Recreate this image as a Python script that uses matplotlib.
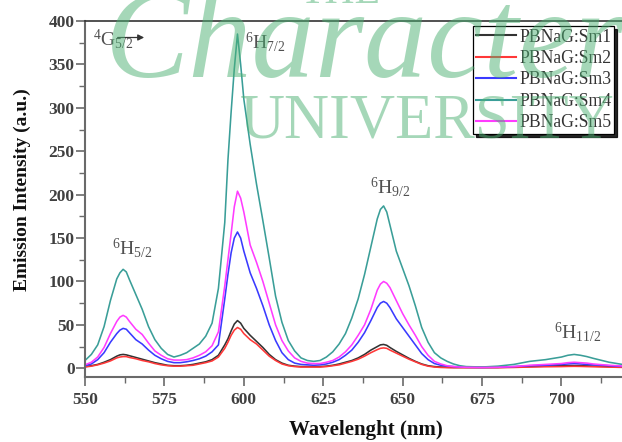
import matplotlib
matplotlib.use('Agg')
import matplotlib.pyplot as plt
from matplotlib.ticker import MultipleLocator

plt.rcParams['font.family'] = ['Liberation Serif', 'DejaVu Serif']
plt.rcParams['mathtext.fontset'] = 'custom'
plt.rcParams['mathtext.rm'] = 'Liberation Serif'
plt.rcParams['mathtext.it'] = 'Liberation Serif:italic'

# ---------------- data ----------------
wavelength = [550, 552, 554, 556, 558, 560, 561, 562, 563, 564, 566, 568, 570, 572, 574, 576,
              578, 580, 582, 584, 586, 588, 590, 592, 594, 595, 596, 597, 598, 599, 600,
              602, 604, 606, 608, 610, 612, 614, 616, 618, 620, 622, 624, 626, 628, 630,
              632, 634, 636, 638, 640, 642, 643, 644, 645, 646, 648, 650, 652, 654, 656,
              658, 660, 662, 664, 666, 668, 670, 675, 680, 685, 690, 695, 700, 702, 704,
              706, 708, 710, 715, 720]

sm1 = [2, 3, 4.5, 7, 10, 14, 15.5, 16, 15.5, 14.5, 12.5, 10.5, 8.5, 6.5, 5, 3.5,
       3, 3, 3.5, 4.5, 6, 7.5, 10, 15, 27, 34, 43, 51, 55, 52, 46,
       38, 31, 24, 16, 10, 6, 3.5, 2.5, 2, 2, 2, 2, 2.5, 3.5, 5,
       7, 9, 12, 16, 21, 25, 27, 27.5, 26.5, 24, 19.5, 15.5, 11.5, 8, 5,
       3, 2, 1.5, 1.2, 1, 1, 1, 1, 1, 1.5, 2, 2.5, 3, 3, 3.2,
       3, 2.8, 2.5, 2, 1.5]

sm2 = [1.5, 2.5, 4, 6, 8.5, 12, 13, 13.5, 13.5, 12.5, 11, 9, 7.5, 5.5, 4, 3,
       2.5, 2.5, 3, 3.5, 5, 6.5, 8.5, 13, 23, 30, 38, 44, 47, 45, 40,
       33, 28, 21, 14, 9, 5, 3, 2, 1.5, 1.5, 1.5, 1.5, 2, 3, 4,
       6, 8, 10.5, 14, 18, 21.5, 23, 23.5, 23, 21, 17.5, 14, 10.5, 7.5, 4.5,
       2.5, 1.5, 1, 0.8, 0.7, 0.7, 0.7, 0.7, 0.7, 1, 1.5, 1.8, 2, 2.2, 2.3,
       2.2, 2, 1.8, 1.4, 1]

sm3 = [3, 5, 10, 18, 30, 40, 44, 46, 45, 41, 33, 28, 21, 15, 11, 8,
       6.5, 6.5, 7.5, 9, 11, 14, 19, 27, 80, 108, 133, 150, 157, 150, 135,
       110, 92, 72, 50, 32, 18, 10, 6, 4.5, 4, 3.5, 4, 5, 7, 10,
       15, 21, 30, 41, 55, 70, 75, 77, 75, 70, 57, 47, 37, 27, 17,
       10, 5.5, 3.5, 2.5, 2, 1.5, 1.2, 1, 1.2, 2, 3, 3.5, 4.5, 5, 5.5,
       5, 4.5, 4, 3, 2]

sm4 = [9, 16, 27, 48, 78, 103, 110, 114, 111, 102, 85, 68, 48, 33, 23, 16,
       13, 15, 18, 23, 28, 37, 52, 92, 168, 240, 295, 345, 385, 350, 310,
       258, 212, 170, 127, 83, 53, 32, 20, 12, 9, 8, 9, 13, 19, 28,
       40, 58, 80, 108, 140, 172, 183, 187, 180, 165, 135, 115, 95, 72, 47,
       30, 18, 12, 8, 5, 3, 2, 1.5, 2.5, 4.5, 8, 10, 13, 15, 16,
       15, 13.5, 11.5, 7, 4]

sm5 = [4, 7, 13, 24, 40, 54, 59, 61, 59, 54, 45, 39, 29, 20, 15, 11,
       9.5, 9.5, 10, 12, 15, 19, 26, 42, 95, 125, 155, 186, 204, 196, 180,
       142, 122, 100, 75, 50, 32, 20, 12, 8, 6, 5.5, 5.5, 7, 9, 13,
       19, 27, 38, 50, 68, 90, 97, 100, 98, 93, 78, 63, 50, 38, 25,
       15, 8, 5, 3, 2, 1.5, 1.2, 1, 1.2, 2, 3.5, 4.5, 5.5, 6.5, 7,
       6.5, 6, 5, 3.5, 2.5]

labels = ['PBNaG:Sm1', 'PBNaG:Sm2', 'PBNaG:Sm3', 'PBNaG:Sm4', 'PBNaG:Sm5']
colors = ['#333333', '#ff3838', '#3a3aff', '#3a9e98', '#ff3cff']

x_ticks = [550, 575, 600, 625, 650, 675, 700]
y_ticks = [0, 50, 100, 150, 200, 250, 300, 350, 400]

# ---------------- figure ----------------
fig = plt.figure(figsize=(6.22, 4.42), dpi=100)
ax = fig.add_axes([85 / 622, 65 / 442, 540 / 622, 356 / 442])

for series, lab, col in zip([sm1, sm2, sm3, sm4, sm5], labels, colors):
    ax.plot(wavelength, series, color=col, lw=1.15, label=lab)

ax.set_xlim(550, 720)
ax.set_ylim(-10, 400)
ax.set_xticks(x_ticks)
ax.set_yticks(y_ticks)
ax.xaxis.set_minor_locator(MultipleLocator(12.5))
ax.yaxis.set_minor_locator(MultipleLocator(25))

spine_col = '#6a6a6a'
for s in ['left', 'bottom']:
    ax.spines[s].set_color(spine_col)
    ax.spines[s].set_linewidth(1.5)
ax.spines['top'].set_color('#333333')
ax.spines['top'].set_linewidth(1.2)
ax.spines['right'].set_visible(False)

ax.tick_params(which='major', direction='out', length=6.5, width=1.2, color=spine_col,
               labelsize=12.5, labelcolor='#404040', top=False, right=False)
ax.tick_params(which='minor', direction='out', length=4, width=1.0, color=spine_col,
               top=False, right=False)
ax.tick_params(axis='y', which='major', pad=1)
ax.tick_params(axis='x', which='major', pad=4.5)
for t in ax.get_xticklabels() + ax.get_yticklabels():
    t.set_fontweight('bold')

fig.text(366 / 622, 1 - 430 / 442, 'Wavelenght (nm)', ha='center', va='center',
         fontsize=15, fontweight='bold', color='#111111')
fig.text(22 / 622, 1 - 190 / 442, 'Emission Intensity (a.u.)', ha='center', va='center',
         rotation=90, fontsize=14, fontweight='bold', color='#111111')

# transition labels
tcol = '#505050'
ax.text(552.5, 372, r'$^{4}$G$_{5/2}$', color=tcol, fontsize=14, va='baseline', ha='left')
ax.annotate('', xy=(569.5, 381), xytext=(559.4, 381),
            arrowprops=dict(arrowstyle='-|>', color='#333333', lw=0.9, mutation_scale=9))
ax.text(600.4, 369, r'$^{6}$H$_{7/2}$', color=tcol, fontsize=14, va='baseline', ha='left')
ax.text(639.7, 202, r'$^{6}$H$_{9/2}$', color=tcol, fontsize=14, va='baseline', ha='left')
ax.text(558.4, 131, r'$^{6}$H$_{5/2}$', color=tcol, fontsize=14, va='baseline', ha='left')
ax.text(697.5, 35, r'$^{6}$H$_{11/2}$', color=tcol, fontsize=14, va='baseline', ha='left')

leg = ax.legend(loc='upper right', bbox_to_anchor=(614 / 622, 1 - 26 / 442),
                bbox_transform=fig.transFigure, borderaxespad=0, fontsize=12.7,
                frameon=True, fancybox=False, framealpha=1, edgecolor='black',
                handlelength=2.3, handletextpad=0.17, borderpad=0.15, labelspacing=0.25,
                shadow={'color': 'black', 'alpha': 0.85})
leg.get_frame().set_linewidth(0.9)
for t in leg.get_texts():
    t.set_color('#333333')
for h in leg.get_lines():
    h.set_linewidth(1.5)

# watermark
wm = '#4db173'
fig.text(105 / 622, 1 - 77 / 442, 'Character', fontsize=91, style='italic',
         color=wm, alpha=0.5, va='baseline', ha='left', zorder=10)
fig.text(240 / 622, 1 - 137 / 442, 'UNIVERSITY', fontsize=45,
         color=wm, alpha=0.5, va='baseline', ha='left', zorder=10)
fig.text(340 / 622, 1 - 3 / 442, 'THE', fontsize=30,
         color=wm, alpha=0.5, va='baseline', ha='center', zorder=10)

fig.savefig('out.png', dpi=100)
